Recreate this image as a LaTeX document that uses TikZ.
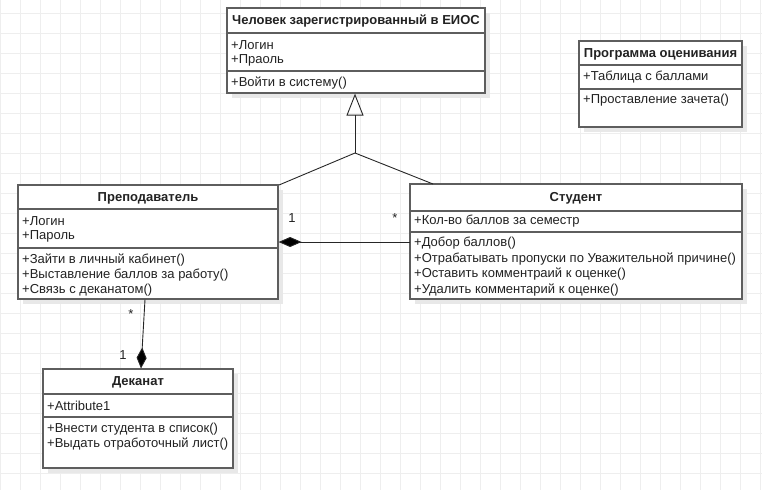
\documentclass[tikz,border=0pt]{standalone}
\usepackage{fontspec}
\setmainfont{Liberation Sans}
\usetikzlibrary{arrows.meta}
\definecolor{gridc}{HTML}{EEEEEE}
\definecolor{boxc}{HTML}{5E5E5E}
\definecolor{txtc}{HTML}{222222}
\definecolor{shadc}{HTML}{E8E8E8}
\tikzset{
  box/.style={draw=boxc, line width=1.1pt, fill=white},
  shad/.style={fill=shadc, draw=none},
  sepline/.style={draw=boxc, line width=1.1pt},
  ttl/.style={font=\fontsize{13}{15}\selectfont\bfseries, text=txtc, inner sep=0pt, anchor=center, yshift=-1pt},
  itm/.style={font=\fontsize{13}{15}\selectfont, text=txtc, inner sep=0pt, anchor=west, yshift=-1pt},
  conn/.style={draw=black!85, line width=0.9pt},
  mult/.style={font=\fontsize{13}{15}\selectfont, text=txtc, inner sep=0pt},
}
\begin{document}
\begin{tikzpicture}[x=1pt,y=-1pt]
\useasboundingbox (0,0) rectangle (762,490);
% grid
\foreach \gx in {0.7,20.7,...,760.7} \draw[gridc, line width=0.8pt] (\gx,0) -- (\gx,490);
\foreach \gy in {13.3,33.3,...,490} \draw[gridc, line width=0.8pt] (0,\gy) -- (762,\gy);

% ---------- Человек ----------
\fill[shad] (232,13) rectangle (490,98);
\path[box] (227,8) rectangle (485,93);
\node[inner sep=0pt, minimum width=258pt, minimum height=85pt] (human) at (356,50.5) {};
\draw[sepline] (227,33) -- (485,33);
\draw[sepline] (227,71) -- (485,71);
\node[ttl] (humanT) at (356,20.5) {Человек зарегистрированный в ЕИОС};
\node[itm] (humanA1) at (231,44) {+Логин};
\node[itm] (humanA2) at (231,59) {+Праоль};
\node[itm] (humanM1) at (231,82) {+Войти в систему()};

% ---------- Программа ----------
\fill[shad] (584,46) rectangle (747,132);
\path[box] (579,41) rectangle (742,127);
\draw[sepline] (579,65) -- (742,65);
\draw[sepline] (579,89) -- (742,89);
\node[ttl] (progT) at (660.5,53) {Программа оценивания};
\node[itm] (progA1) at (583,76) {+Таблица с баллами};
\node[itm] (progM1) at (583,99) {+Проставление зачета()};

% ---------- Преподаватель ----------
\fill[shad] (23,190) rectangle (283,304);
\path[box] (18,185) rectangle (278,299);
\node[inner sep=0pt, minimum width=260pt, minimum height=114pt] (prep) at (148,242) {};
\draw[sepline] (18,209) -- (278,209);
\draw[sepline] (18,248) -- (278,248);
\node[ttl] (prepT) at (148,197) {Преподаватель};
\node[itm] (prepA1) at (22,220) {+Логин};
\node[itm] (prepA2) at (22,235) {+Пароль};
\node[itm] (prepM1) at (22,259) {+Зайти в личный кабинет()};
\node[itm] (prepM2) at (22,274) {+Выставление баллов за работу()};
\node[itm] (prepM3) at (22,289) {+Связь с деканатом()};

% ---------- Студент ----------
\fill[shad] (415,189) rectangle (747,304);
\path[box] (410,184) rectangle (742,299);
\node[inner sep=0pt, minimum width=332pt, minimum height=115pt] (stud) at (576,241.5) {};
\draw[sepline] (410,211) -- (742,211);
\draw[sepline] (410,232) -- (742,232);
\node[ttl] (studT) at (576,197) {Студент};
\node[itm] (studA1) at (414,220) {+Кол-во баллов за семестр};
\node[itm] (studM1) at (414,242.5) {+Добор баллов()};
\node[itm] (studM2) at (414,258) {+Отрабатывать пропуски по Уважительной причине()};
\node[itm] (studM3) at (414,273.5) {+Оставить комментраий к оценке()};
\node[itm] (studM4) at (414,289) {+Удалить комментарий к оценке()};

% ---------- Деканат ----------
\fill[shad] (48,374) rectangle (238,473);
\path[box] (43,369) rectangle (233,468);
\node[inner sep=0pt, minimum width=190pt, minimum height=99pt] (dek) at (138,418.5) {};
\draw[sepline] (43,394) -- (233,394);
\draw[sepline] (43,417) -- (233,417);
\node[ttl] (dekT) at (138,381.5) {Деканат};
\node[itm] (dekA1) at (47,405) {+Attribute1};
\node[itm] (dekM1) at (47,428) {+Внести студента в список()};
\node[itm] (dekM2) at (47,443) {+Выдать отработочный лист()};

% ---------- connectors ----------
\coordinate (junc) at (355,153);
\coordinate (humanB) at (355,93.6);
\coordinate (prepTop) at (279,185);
\coordinate (studTop) at (433,184);
\draw[conn, -{Triangle[open, length=22pt, width=17pt, line width=0.9pt]}] (junc) -- (humanB);
\draw[conn] (prepTop) -- (junc) -- (studTop);

\coordinate (studL) at (410,242);
\coordinate (prepR) at (278.6,242);
\draw[conn, -{Diamond[length=23pt, width=10pt, fill=black]}] (studL) -- (prepR);

\coordinate (prepB) at (145,299.6);
\coordinate (dekTop) at (141,368.4);
\draw[conn, -{Diamond[length=21pt, width=10pt, fill=black]}] (prepB) -- (dekTop);

\node[mult] (m1) at (292,218) {1};
\node[mult] (m2) at (395,218) {*};
\node[mult] (m3) at (131,314) {*};
\node[mult] (m4) at (123,355) {1};
\end{tikzpicture}
\end{document}
